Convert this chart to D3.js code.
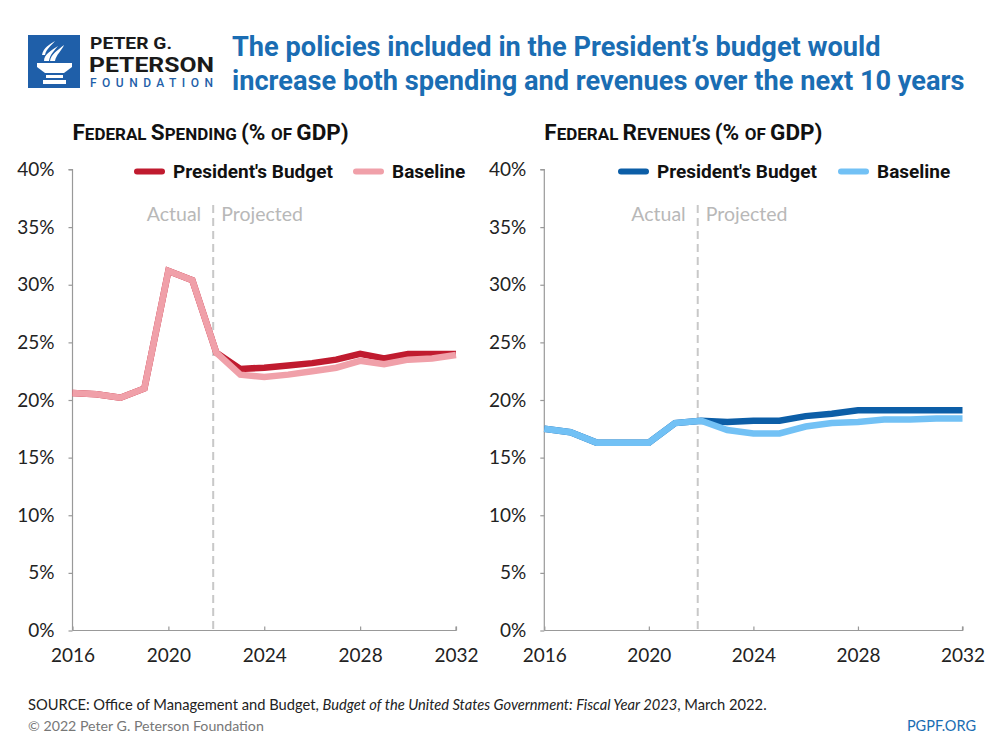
<!DOCTYPE html>
<html>
<head>
<meta charset="utf-8">
<script src="https://cdn.jsdelivr.net/npm/d3@7"></script>
<style>
  html, body { margin: 0; padding: 0; background: #fff; }
  svg { display: block; }
</style>
</head>
<body>
<script>
// ---------- DATA ----------
const years = [2016, 2017, 2018, 2019, 2020, 2021, 2022, 2023, 2024, 2025, 2026, 2027, 2028, 2029, 2030, 2031, 2032];
const spendingPresident = [20.6, 20.5, 20.2, 21.0, 31.2, 30.4, 24.1, 22.7, 22.8, 23.0, 23.2, 23.5, 24.0, 23.6, 24.0, 24.0, 24.0];
const spendingBaseline  = [20.6, 20.5, 20.2, 21.0, 31.2, 30.4, 24.1, 22.2, 22.0, 22.2, 22.5, 22.8, 23.4, 23.1, 23.5, 23.6, 23.9];
const revenuePresident  = [17.5, 17.2, 16.3, 16.3, 16.3, 18.0, 18.2, 18.1, 18.2, 18.2, 18.6, 18.8, 19.1, 19.1, 19.1, 19.1, 19.1];
const revenueBaseline   = [17.5, 17.2, 16.3, 16.3, 16.3, 18.0, 18.2, 17.4, 17.1, 17.1, 17.7, 18.0, 18.1, 18.3, 18.3, 18.4, 18.4];
const xTickValues = [2016, 2020, 2024, 2028, 2032];
const yTickValues = [0, 5, 10, 15, 20, 25, 30, 35, 40];
const seriesNames = ["President's Budget", "Baseline"];
const dividerYear = 2021.87;

const W = 1000, H = 750;
const svg = d3.select("body").append("svg").attr("width", W).attr("height", H);

const BLUE = "#1a6db3";
const tickFont = "Lato, 'Open Sans', sans-serif";
const boldFont = "Roboto, 'Liberation Sans', sans-serif";
const lightFont = "Lato, 'Open Sans', sans-serif";

// ---------- LOGO ----------
const logo = svg.append("g");
logo.append("rect").attr("x", 28).attr("y", 35).attr("width", 52).attr("height", 53).attr("fill", "#1f5fa9");
// torch (white)
logo.append("path").attr("d", "M44,61 C44,54 52,50 58,46 C55,50 50,54 49,61 Z").attr("fill", "#fff");
logo.append("path").attr("d", "M50,61 C51,54 58,50 64,45 C62,50 56,55 55,61 Z").attr("fill", "#fff");
logo.append("path").attr("d", "M42,55 C43,48 50,44 55,41 C52,45 46,49 45,55 Z").attr("fill", "#fff");
logo.append("path").attr("d", "M37,63 L72,63 L72,67 L64,73 L45,73 L37,67 Z").attr("fill", "#fff");
logo.append("rect").attr("x", 46).attr("y", 75).attr("width", 17).attr("height", 3).attr("fill", "#fff");
logo.append("rect").attr("x", 43).attr("y", 80).attr("width", 23).attr("height", 4).attr("fill", "#fff");
logo.append("text").attr("x", 90).attr("y", 48.5).text("PETER G.")
  .attr("font-family", boldFont).attr("font-weight", 700).attr("font-size", 17).attr("fill", "#1a1a1a")
  .attr("textLength", 82).attr("lengthAdjust", "spacingAndGlyphs");
logo.append("text").attr("x", 89).attr("y", 72).text("PETERSON")
  .attr("font-family", boldFont).attr("font-weight", 700).attr("font-size", 21).attr("fill", "#1a1a1a")
  .attr("textLength", 125).attr("lengthAdjust", "spacingAndGlyphs");
logo.append("text").attr("x", 90).attr("y", 86.5).text("FOUNDATION")
  .attr("font-family", boldFont).attr("font-weight", 500).attr("font-size", 12).attr("fill", "#1f5fa9")
  .attr("textLength", 123).attr("lengthAdjust", "spacing");

// ---------- TITLE ----------
const title = svg.append("text").attr("font-family", boldFont).attr("font-weight", 700)
  .attr("font-size", 27.2).attr("fill", BLUE);
title.append("tspan").attr("x", 232).attr("y", 56).text("The policies included in the President\u2019s budget would");
title.append("tspan").attr("x", 232).attr("y", 90).text("increase both spending and revenues over the next 10 years");

// ---------- CHART FUNCTION ----------
function drawChart(cfg) {
  const g = svg.append("g");
  const x = d3.scaleLinear().domain([2016, 2032]).range([cfg.x0, cfg.x1]);
  const y = d3.scaleLinear().domain([0, 40]).range([630.5, 169.5]);

  // chart title with small caps
  const t = g.append("text").attr("x", cfg.x0).attr("y", 140)
    .attr("font-family", boldFont).attr("font-weight", 700).attr("fill", "#111");
  cfg.titleParts.forEach(p => {
    t.append("tspan").attr("font-size", p[1] ? 22.5 : 17).text(p[0]);
  });

  // y axis
  const yAxis = d3.axisLeft(y).tickValues(yTickValues).tickFormat(d => d + "%").tickSize(4).tickPadding(14);
  const ya = g.append("g").attr("transform", `translate(${cfg.x0},0)`).call(yAxis);
  ya.select(".domain").attr("stroke", "#999").attr("stroke-width", 1.2).attr("d", `M-4,${y(40)}H0V${y(0)}`);
  ya.selectAll(".tick line").attr("stroke", "#999").attr("stroke-width", 1.2);
  ya.selectAll(".tick text").attr("font-family", tickFont).attr("font-size", 19).attr("fill", "#222");

  // x axis (ticks pointing up)
  const xAxis = d3.axisBottom(x).tickValues(xTickValues).tickFormat(d3.format("d")).tickSize(-4).tickPadding(18);
  const xa = g.append("g").attr("transform", `translate(0,${y(0)})`).call(xAxis);
  xa.select(".domain").attr("stroke", "#999").attr("stroke-width", 1.2).attr("d", `M${cfg.x0},0H${cfg.x1}V-4`);
  xa.selectAll(".tick line").attr("stroke", "#999").attr("stroke-width", 1.2);
  xa.selectAll(".tick text").attr("font-family", tickFont).attr("font-size", 19).attr("fill", "#222");

  // divider
  const dx = x(dividerYear);
  g.append("line").attr("x1", dx).attr("x2", dx).attr("y1", 205).attr("y2", y(0))
    .attr("stroke", "#c8c8c8").attr("stroke-width", 2).attr("stroke-dasharray", "8,5");
  g.append("text").attr("x", dx - 12).attr("y", 221).attr("text-anchor", "end").text("Actual")
    .attr("font-family", lightFont).attr("font-size", 19.5).attr("fill", "#b8b8b8");
  g.append("text").attr("x", dx + 8).attr("y", 221).text("Projected")
    .attr("font-family", lightFont).attr("font-size", 19.5).attr("fill", "#b8b8b8");

  // lines
  const line = d3.line().x((d, i) => x(years[i])).y(d => y(d));
  [[cfg.pres, cfg.c1], [cfg.base, cfg.c2]].forEach(([vals, col]) => {
    g.append("path").datum(vals).attr("d", line).attr("fill", "none")
      .attr("stroke", col).attr("stroke-width", 6.5).attr("stroke-linejoin", "miter");
  });

  // legend
  const legend = g.append("g");
  const lx = cfg.legendX;
  [[seriesNames[0], cfg.c1, lx], [seriesNames[1], cfg.c2, lx + cfg.legendGap]].forEach(([name, col, px]) => {
    legend.append("line").attr("x1", px + 6).attr("x2", px + 31).attr("y1", 171.5).attr("y2", 171.5)
      .attr("stroke", col).attr("stroke-width", 6).attr("stroke-linecap", "round");
    legend.append("text").attr("x", px + 42).attr("y", 177.5).text(name)
      .attr("font-family", boldFont).attr("font-weight", 700).attr("font-size", 19).attr("fill", "#111");
  });
}

drawChart({
  x0: 72.5, x1: 456,
  pres: spendingPresident, base: spendingBaseline,
  c1: "#c01b2f", c2: "#f0a0a9",
  legendX: 131, legendGap: 219,
  titleParts: [["F", 1], ["EDERAL ", 0], ["S", 1], ["PENDING ", 0], ["(% ", 1], ["OF ", 0], ["GDP)", 1]]
});
drawChart({
  x0: 544.3, x1: 962.5,
  pres: revenuePresident, base: revenueBaseline,
  c1: "#0c5ea7", c2: "#72c1f5",
  legendX: 615, legendGap: 220,
  titleParts: [["F", 1], ["EDERAL ", 0], ["R", 1], ["EVENUES ", 0], ["(% ", 1], ["OF ", 0], ["GDP)", 1]]
});

// ---------- FOOTER ----------
const src = svg.append("text").attr("x", 28).attr("y", 710).attr("font-family", lightFont)
  .attr("font-size", 14.7).attr("fill", "#222");
src.append("tspan").text("SOURCE: Office of Management and Budget, ");
src.append("tspan").attr("font-style", "italic").text("Budget of the United States Government: Fiscal Year 2023");
src.append("tspan").text(", March 2022.");
svg.append("text").attr("x", 28).attr("y", 731).text("\u00A9 2022 Peter G. Peterson Foundation")
  .attr("font-family", lightFont).attr("font-size", 14.2).attr("fill", "#777");
svg.append("text").attr("x", 976).attr("y", 731).attr("text-anchor", "end").text("PGPF.ORG")
  .attr("font-family", lightFont).attr("font-size", 14.5).attr("fill", BLUE);
</script>
</body>
</html>
